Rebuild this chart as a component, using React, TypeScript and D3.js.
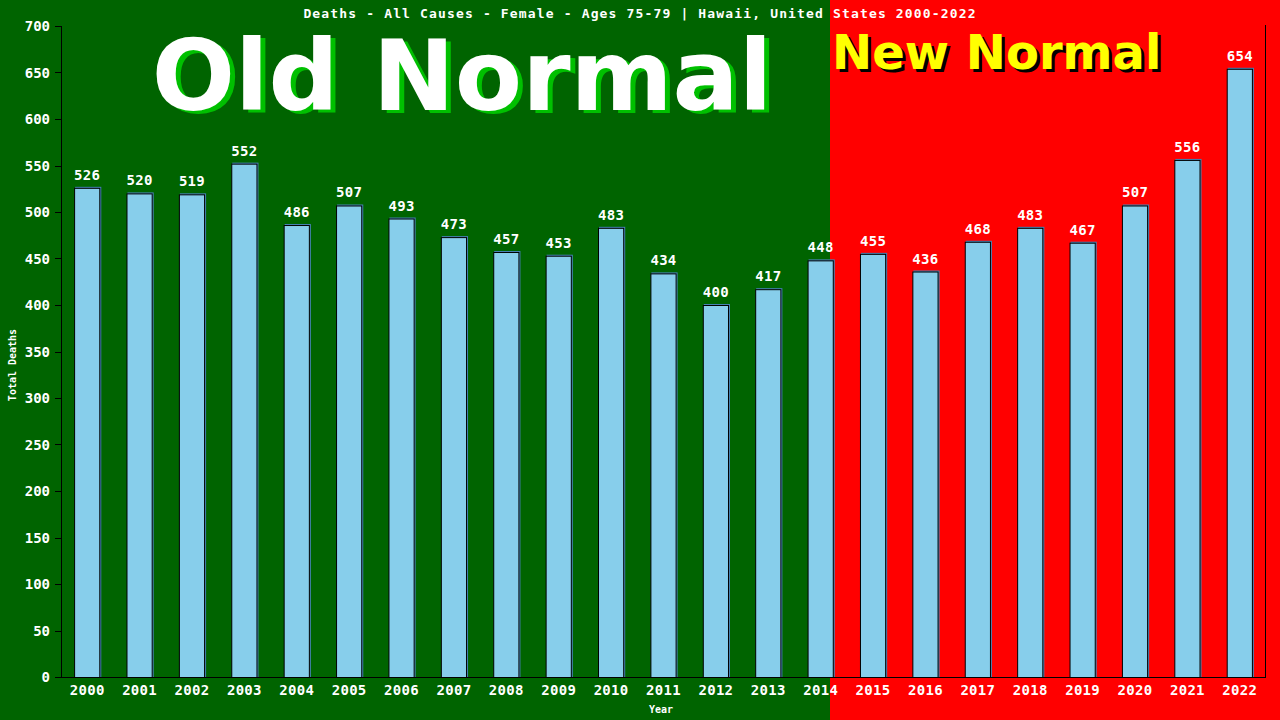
import React from "react";
import * as d3 from "d3";

const years = ["2000","2001","2002","2003","2004","2005","2006","2007","2008","2009","2010","2011","2012","2013","2014","2015","2016","2017","2018","2019","2020","2021","2022"];
const deaths = [526,520,519,552,486,507,493,473,457,453,483,434,400,417,448,455,436,468,483,467,507,556,654];
const yTicks = [0,50,100,150,200,250,300,350,400,450,500,550,600,650,700];
const title = "Deaths - All Causes - Female - Ages 75-79 | Hawaii, United States 2000-2022";

const W = 1280, H = 720;
const left = 61, right = 1266, top = 26, bottom = 677;
const split = 830;
const mono = "'DejaVu Sans Mono', 'Liberation Mono', monospace";
const sans = "'DejaVu Sans', Verdana, sans-serif";

export default function App() {
  const x = d3.scaleBand<string>().domain(years).range([left, right]).paddingInner(0.5).paddingOuter(0.25);
  const y = d3.scaleLinear().domain([0, 700]).range([bottom, top]);
  return (
    <svg width={W} height={H} style={{ position: "absolute", left: 0, top: 0, display: "block" }}>
      <rect x={0} y={0} width={split} height={H} fill="#006400" />
      <rect x={split} y={0} width={W - split} height={H} fill="#ff0000" />
      <text x={640} y={18} textAnchor="middle" fill="#fff" fontFamily={mono} fontWeight="bold" fontSize={13} letterSpacing={1.15}>{title}</text>
      <text x={467} y={113} textAnchor="middle" fill="#00c000" fontFamily={sans} fontWeight="bold" fontSize={98}>Old Normal</text>
      <text x={462} y={110} textAnchor="middle" fill="#ffffff" fontFamily={sans} fontWeight="bold" fontSize={98}>Old Normal</text>
      <text x={835} y={72} fill="#000" fontFamily={sans} fontWeight="bold" fontSize={48}>New Normal</text>
      <text x={832} y={69} fill="#ffff00" fontFamily={sans} fontWeight="bold" fontSize={48}>New Normal</text>
      {years.map((yr, i) => {
        const bx = x(yr)!;
        const bw = x.bandwidth();
        const by = y(deaths[i]);
        return (
          <g key={yr}>
            <rect x={bx + 1} y={by - 1} width={bw} height={bottom - by + 1} fill="#4682b4" />
            <rect x={bx + 0.5} y={by + 0.5} width={bw - 1} height={bottom - by} fill="#87ceeb" stroke="#000" strokeWidth={1} />
            <text x={bx + bw / 2} y={by - 8} textAnchor="middle" fill="#fff" fontFamily={mono} fontWeight="bold" fontSize={14} letterSpacing={0.3}>{deaths[i]}</text>
            <text x={bx + bw / 2} y={695} textAnchor="middle" fill="#fff" fontFamily={mono} fontWeight="bold" fontSize={14} letterSpacing={0.3}>{yr}</text>
          </g>
        );
      })}
      <line x1={left + 0.5} x2={left + 0.5} y1={top} y2={bottom} stroke="#000" />
      <line x1={left} x2={right} y1={bottom + 0.5} y2={bottom + 0.5} stroke="#000" />
      <line x1={right - 0.5} x2={right - 0.5} y1={top - 1} y2={bottom} stroke="#000" />
      {yTicks.map((t) => (
        <g key={t}>
          <line x1={55} x2={left} y1={Math.round(y(t)) + 0.5} y2={Math.round(y(t)) + 0.5} stroke="#000" />
          <text x={50} y={y(t) + 5} textAnchor="end" fill="#fff" fontFamily={mono} fontWeight="bold" fontSize={14}>{t}</text>
        </g>
      ))}
      <text transform="translate(16,365) rotate(-90)" textAnchor="middle" fill="#fff" fontFamily={mono} fontWeight="bold" fontSize={10}>Total Deaths</text>
      <text x={661} y={713} textAnchor="middle" fill="#fff" fontFamily={mono} fontWeight="bold" fontSize={10}>Year</text>
    </svg>
  );
}
